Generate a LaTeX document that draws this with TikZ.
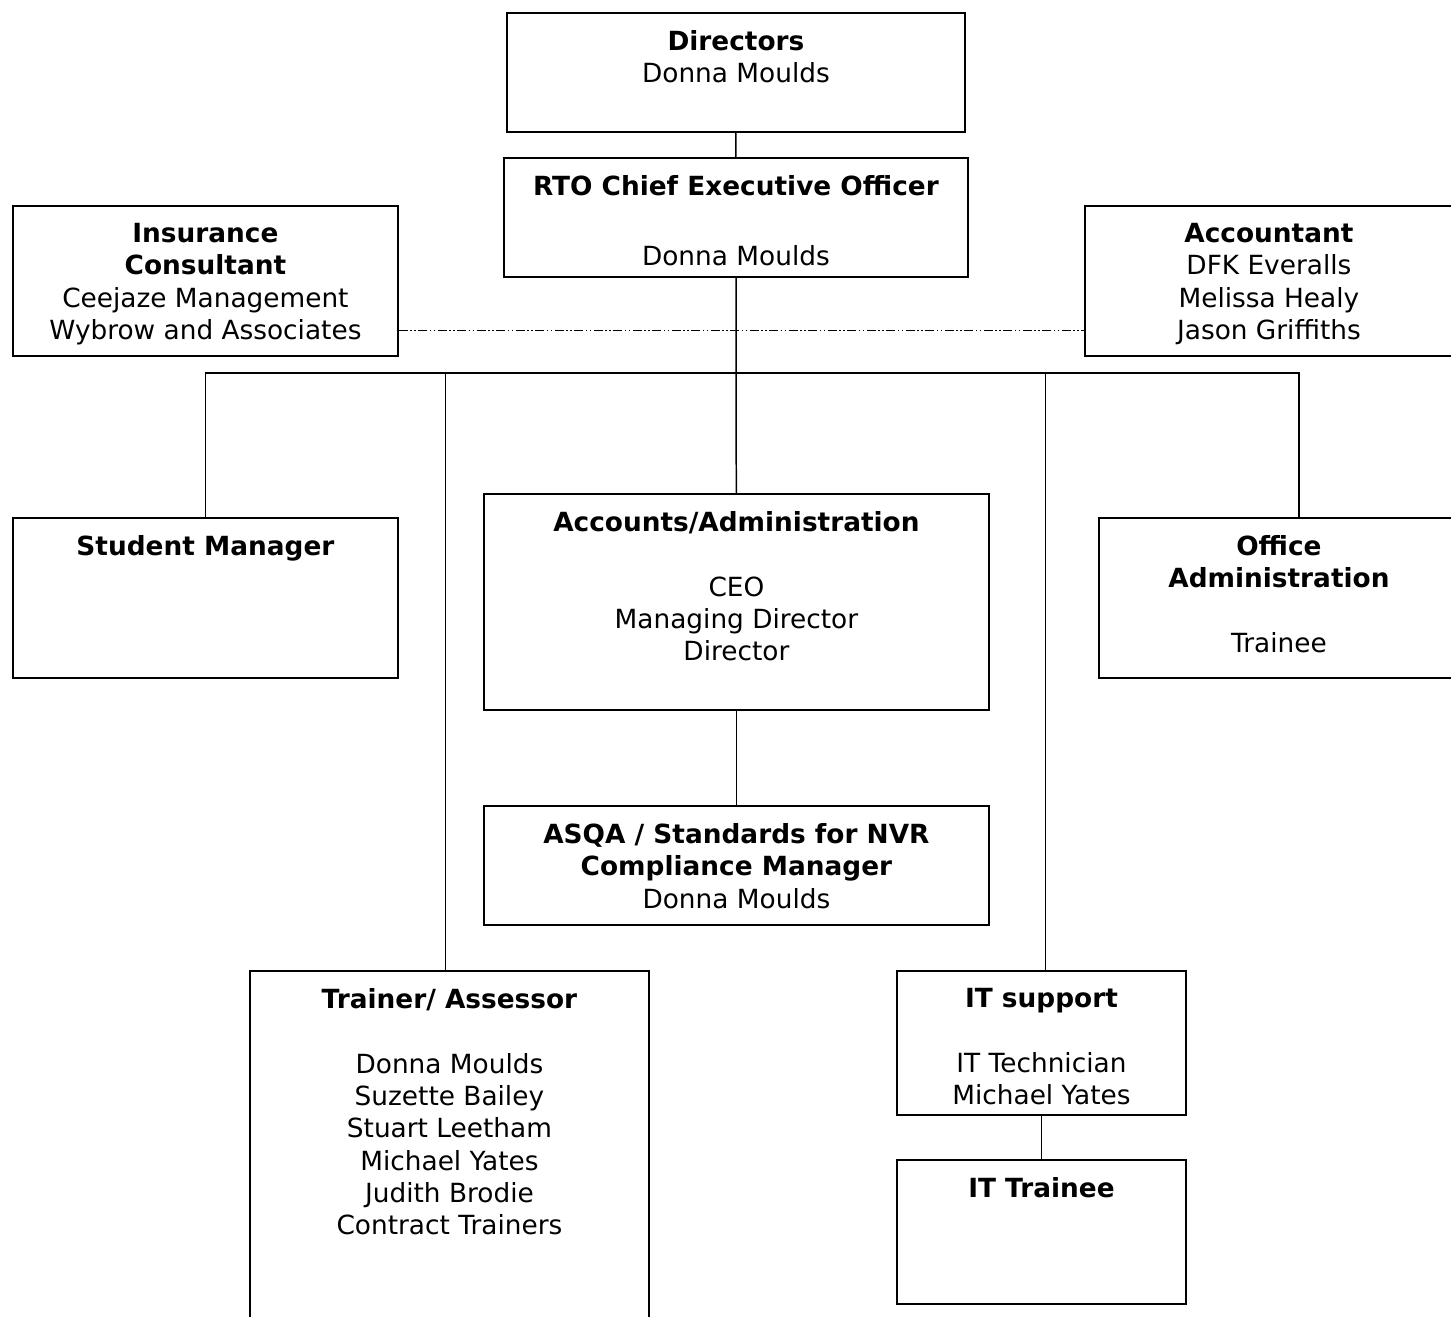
\documentclass[tikz,border=0pt]{standalone}
\usepackage{fontspec}
\setmainfont{DejaVu Sans}
\usetikzlibrary{positioning}

\begin{document}
\begin{tikzpicture}[
  x=0.02cm, y=-0.02cm,
  font=\fontsize{15}{18.4}\selectfont,
  box/.style={draw=black, line width=1.1pt, anchor=north west, inner sep=0pt},
  txt/.style={anchor=north, align=center, inner sep=0pt, yshift=-0.36cm},
  link/.style={line width=0.85pt, draw=black},
  advice/.style={line width=0.55pt, draw=black,
                 dash pattern=on 5pt off 1.5pt on 0.8pt off 1.5pt on 0.8pt off 1.5pt}
]
\useasboundingbox (0,0) rectangle (1451,1317);

% top of the chart
\node[box, minimum width=9.16cm, minimum height=2.38cm] (directors) at (506,12) {};
\node[txt] at (directors.north) {\textbf{Directors}\\Donna Moulds};

\node[box, minimum width=9.28cm, minimum height=2.38cm] (ceo) at (503,157) {};
\node[txt] at (ceo.north) {\textbf{RTO Chief Executive Officer}\\[21.8pt]Donna Moulds};

% external advisers
\node[box, minimum width=7.70cm, minimum height=3.00cm] (insurance) at (12,205) {};
\node[txt] at (insurance.north) {\textbf{Insurance}\\\textbf{Consultant}\\Ceejaze Management\\Wybrow and Associates};

\node[box, minimum width=7.36cm, minimum height=3.00cm] (accountant) at (1084,205) {};
\node[txt] at (accountant.north) {\textbf{Accountant}\\DFK Everalls\\Melissa Healy\\Jason Griffiths};

% staff
\node[box, minimum width=7.70cm, minimum height=3.20cm] (student) at (12,517) {};
\node[txt] at (student.north) {\textbf{Student Manager}};

\node[box, minimum width=10.10cm, minimum height=4.32cm] (accounts) at (483,493) {};
\node[txt] at (accounts.north) {\textbf{Accounts/Administration}\\[18.4pt]CEO\\Managing Director\\Director};

\node[box, minimum width=7.20cm, minimum height=3.20cm] (office) at (1098,517) {};
\node[txt] at (office.north) {\textbf{Office}\\\textbf{Administration}\\[18.4pt]Trainee};

\node[box, minimum width=10.10cm, minimum height=2.38cm] (asqa) at (483,805) {};
\node[txt] at (asqa.north) {\textbf{ASQA / Standards for NVR}\\\textbf{Compliance Manager}\\Donna Moulds};

\node[box, minimum width=7.98cm, minimum height=7.20cm] (trainer) at (249,970) {};
\node[txt] at (trainer.north) {\textbf{Trainer/ Assessor}\\[18.4pt]Donna Moulds\\Suzette Bailey\\Stuart Leetham\\Michael Yates\\Judith Brodie\\Contract Trainers};

\node[box, minimum width=5.78cm, minimum height=2.88cm] (itsupport) at (896,970) {};
\node[txt] at (itsupport.north) {\textbf{IT support}\\[18.4pt]IT Technician\\Michael Yates};

\node[box, minimum width=5.78cm, minimum height=2.88cm] (ittrainee) at (896,1159) {};
\node[txt] at (ittrainee.north) {\textbf{IT Trainee}};

% connectors
\coordinate (bus) at (735,373);
\draw[link] (directors) -- (ceo);
\draw[link] (ceo) -- (accounts);
\draw[link] (accounts) -- (asqa);
\draw[link] (itsupport) -- (ittrainee);
\draw[link] (student) |- (bus) -| ([xshift=0.4cm]office.north);
\draw[link] ([xshift=-0.08cm]trainer.north) -- ([xshift=-0.08cm]trainer.north |- bus);
\draw[link] ([xshift=0.08cm]itsupport.north) -- ([xshift=0.08cm]itsupport.north |- bus);
\draw[advice] ([yshift=-1cm]insurance.east) -- ([yshift=-1cm]accountant.west);

\end{tikzpicture}
\end{document}
